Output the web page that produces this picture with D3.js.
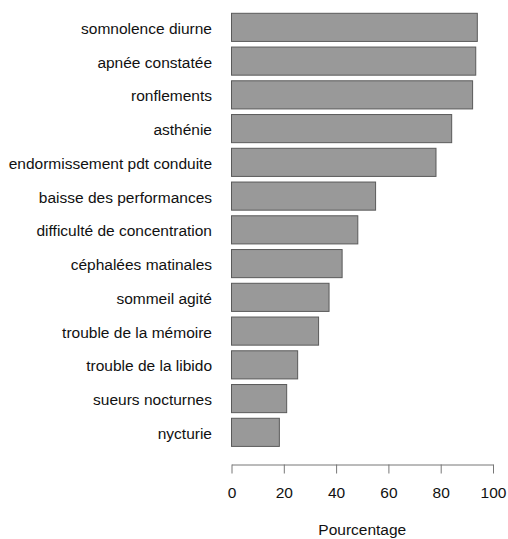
<!DOCTYPE html>
<html>
<head>
<meta charset="utf-8">
<script src="https://cdn.jsdelivr.net/npm/d3@7"></script>
<style>
  html, body { margin: 0; padding: 0; background: #fff; }
  svg { display: block; font-family: "Liberation Sans", Arial, sans-serif; }
</style>
</head>
<body>
<svg id="chart" width="508" height="539"></svg>
<script>
// Symptom labels, top to bottom
const symptoms = [
  "somnolence diurne",
  "apnée constatée",
  "ronflements",
  "asthénie",
  "endormissement pdt conduite",
  "baisse des performances",
  "difficulté de concentration",
  "céphalées matinales",
  "sommeil agité",
  "trouble de la mémoire",
  "trouble de la libido",
  "sueurs nocturnes",
  "nycturie"
];
// Share of patients reporting each symptom (%)
const percentages = [94, 93.4, 92.2, 84.2, 78.2, 55.1, 48.3, 42.3, 37.3, 33.3, 25.3, 21.1, 18.3];
const xTicks = [0, 20, 40, 60, 80, 100];
const xTitle = "Pourcentage";

const fontSize = 15.5;
const svg = d3.select("#chart");

const x = d3.scaleLinear().domain([0, 100]).range([231.5, 493]);
const y = d3.scaleBand()
  .domain(symptoms)
  .range([13.3, 446.4])
  .paddingInner(0.1667)
  .paddingOuter(0);

const data = symptoms.map((s, i) => ({ name: s, value: percentages[i] }));

// Bars
svg.append("g")
  .selectAll("rect")
  .data(data)
  .join("rect")
  .attr("x", x(0))
  .attr("y", d => y(d.name))
  .attr("width", d => x(d.value) - x(0))
  .attr("height", y.bandwidth())
  .attr("fill", "#999999")
  .attr("stroke", "#5a5a5a")
  .attr("stroke-width", 1);

// Category labels
svg.append("g")
  .selectAll("text")
  .data(data)
  .join("text")
  .attr("x", 212)
  .attr("y", d => y(d.name) + y.bandwidth() / 2 + 6.5)
  .attr("text-anchor", "end")
  .attr("font-size", fontSize)
  .attr("fill", "#111")
  .text(d => d.name);

// Bottom axis
const axis = svg.append("g")
  .attr("transform", "translate(0,464.5)")
  .call(d3.axisBottom(x).tickValues(xTicks).tickSize(9).tickSizeOuter(0).tickFormat(d3.format("d")));
axis.select(".domain").attr("stroke", "#777");
axis.selectAll(".tick line").attr("stroke", "#777");
axis.selectAll(".tick text")
  .attr("fill", "#111")
  .attr("font-size", fontSize)
  .attr("font-family", "'Liberation Sans', Arial, sans-serif")
  .attr("dy", 0)
  .attr("y", 33.5);

// Axis title
svg.append("text")
  .attr("x", x(50))
  .attr("y", 535)
  .attr("text-anchor", "middle")
  .attr("font-size", fontSize)
  .attr("fill", "#111")
  .text(xTitle);
</script>
</body>
</html>
